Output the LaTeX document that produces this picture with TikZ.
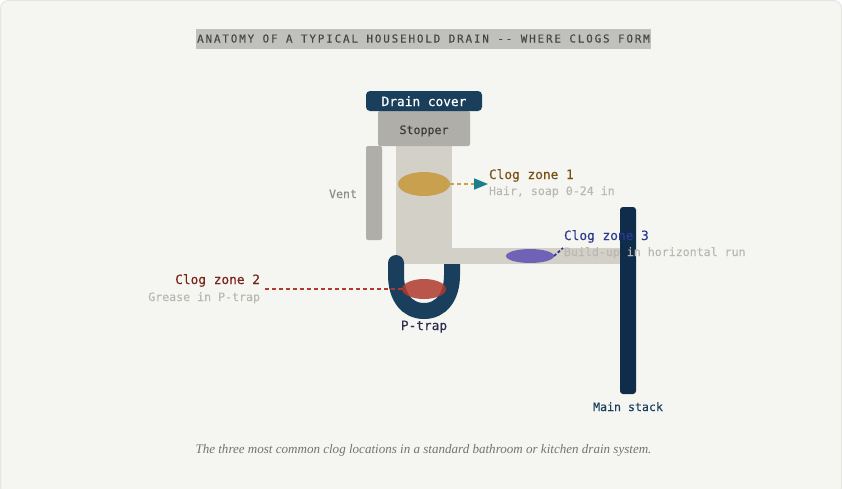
\documentclass[tikz,border=0pt]{standalone}
\usepackage{fontspec}
\setmainfont{Liberation Serif}
\setmonofont{DejaVu Sans Mono}
\usetikzlibrary{arrows.meta,shapes.geometric}
\definecolor{bgcard}{HTML}{F5F5F1}
\definecolor{cardline}{HTML}{E6E6E1}
\definecolor{navy}{HTML}{1A3F5C}
\definecolor{stackblue}{HTML}{0F2D4A}
\definecolor{pipegrey}{HTML}{D3D0C8}
\definecolor{capgrey}{HTML}{B0AEA8}
\definecolor{subgrey}{HTML}{BAB8B2}
\definecolor{goldclog}{HTML}{C8A04E}
\definecolor{redclog}{HTML}{B03A2E}
\definecolor{purpleclog}{HTML}{6F63B8}
\definecolor{tealtip}{HTML}{1A7F8A}
\definecolor{titlebg}{HTML}{C0C0BD}
\definecolor{zonebrown}{HTML}{7A4F12}
\definecolor{zonered}{HTML}{7A2318}
\definecolor{zoneblue}{HTML}{2C3A8C}
\definecolor{trapviolet}{HTML}{2D2D50}
\tikzset{
  part/.style={inner sep=0pt,outer sep=0pt,draw=none,rounded corners=#1},
  part/.default=2pt,
  mono/.style={font=\ttfamily\fontsize{11.6}{13}\selectfont\addfontfeature{FakeBold=0.15},inner sep=0pt,outer sep=0pt,anchor=base},
  monolg/.style={font=\ttfamily\fontsize{12.8}{14}\selectfont\addfontfeature{FakeBold=0.3},inner sep=0pt,outer sep=0pt,anchor=base},
  clog/.style={ellipse,inner sep=0pt,outer sep=0pt,draw=none},
  leader/.style={line width=1.8pt,dash pattern=on 4pt off 3pt},
}
\begin{document}
\begin{tikzpicture}[x=1pt,y=-1pt]
\useasboundingbox (0,0) rectangle (842,488);
\fill[white] (0,0) rectangle (842,488);
\draw[fill=bgcard,draw=cardline,line width=1pt,rounded corners=8pt] (0.5,0.5) rectangle (841.5,495);

% title
\node[inner sep=0pt,fill=titlebg,minimum width=455pt,minimum height=20pt,text height=7pt,text depth=0pt,text=black!72,
  font=\ttfamily\fontsize{10.9}{13}\selectfont\addfontfeature{LetterSpace=17,FakeBold=0.2}] (title) at (423.5,39)
  {ANATOMY OF A TYPICAL HOUSEHOLD DRAIN -- WHERE CLOGS FORM};

% pipes
\node[part=0pt,fill=pipegrey,minimum width=56pt,minimum height=118pt] (pipe) at (424,205) {};
\draw[navy,line width=16pt,line cap=round] (396,263) -- (396,275)
   .. controls (396,297) and (407,311) .. (424,311)
   .. controls (441,311) and (452,297) .. (452,275) -- (452,263);
\node[part=0pt,fill=pipegrey,minimum width=212pt,minimum height=16pt] (run) at (530,256) {};

\node[part,fill=capgrey,minimum width=92pt,minimum height=35pt,text height=11pt,text depth=0pt,font=\ttfamily\fontsize{11.6}{13}\selectfont\addfontfeature{FakeBold=0.15},text=black!78] (stopper) at (424,128.5) {Stopper};
\node[part=4pt,fill=navy,minimum width=116pt,minimum height=20pt,text height=10pt,text depth=0pt,text=white,font=\ttfamily\fontsize{12.8}{14}\selectfont\addfontfeature{FakeBold=0.5}] (cover) at (424,101) {Drain cover};
\node[part,fill=capgrey,minimum width=16pt,minimum height=94pt] (vent) at (374,193) {};
\node[part=3pt,fill=stackblue,minimum width=16pt,minimum height=187pt] (stack) at (628,300.5) {};

% clogs
\node[clog,fill=goldclog,minimum width=52pt,minimum height=24pt] (clogA) at (424,184) {};
\node[clog,fill=redclog,fill opacity=.85,minimum width=44pt,minimum height=20pt] (clogB) at (424,289) {};
\node[clog,fill=purpleclog,minimum width=48pt,minimum height=14pt] (clogC) at (530,256) {};

% leader ends
\coordinate (endA) at (488,184);
\coordinate (endB) at (265,289);
\coordinate (endC) at (563,248);
\draw[leader,goldclog,-{Triangle[length=14pt,width=11pt,fill=tealtip,color=tealtip,sep=0pt]}] (clogA.east) -- (endA);
\draw[leader,redclog] (endB) -- (clogB.west);
\draw[leader,dash pattern=on 3pt off 2pt,color=zoneblue] (clogC.east) -- (endC);

% labels
\node[monolg,anchor=base west,text=zonebrown] (la) at (489,179) {Clog zone 1};
\node[mono,anchor=base west,text=subgrey] (lb) at (489,195) {Hair, soap 0-24 in};
\node[monolg,anchor=base east,text=zonered] (lc) at (260,284) {Clog zone 2};
\node[mono,anchor=base east,text=subgrey] (ld) at (260,301) {Grease in P-trap};
\node[monolg,anchor=base west,text=zoneblue] (le) at (564,240) {Clog zone 3};
\node[mono,anchor=base west,text=subgrey] (lf) at (564,256) {Build-up in horizontal run};
\node[mono,anchor=base east,text=black!45] (lvent) at (357,198) {Vent};
\node[monolg,text=trapviolet] (lptrap) at (424,330) {P-trap};
\node[mono,text=navy] (lstack) at (628,411) {Main stack};
\node[inner sep=0pt,anchor=base,text=black!55,font=\itshape\fontsize{13.05}{15}\selectfont] (caption) at (423.5,453)
  {The three most common clog locations in a standard bathroom or kitchen drain system.};
\end{tikzpicture}
\end{document}
